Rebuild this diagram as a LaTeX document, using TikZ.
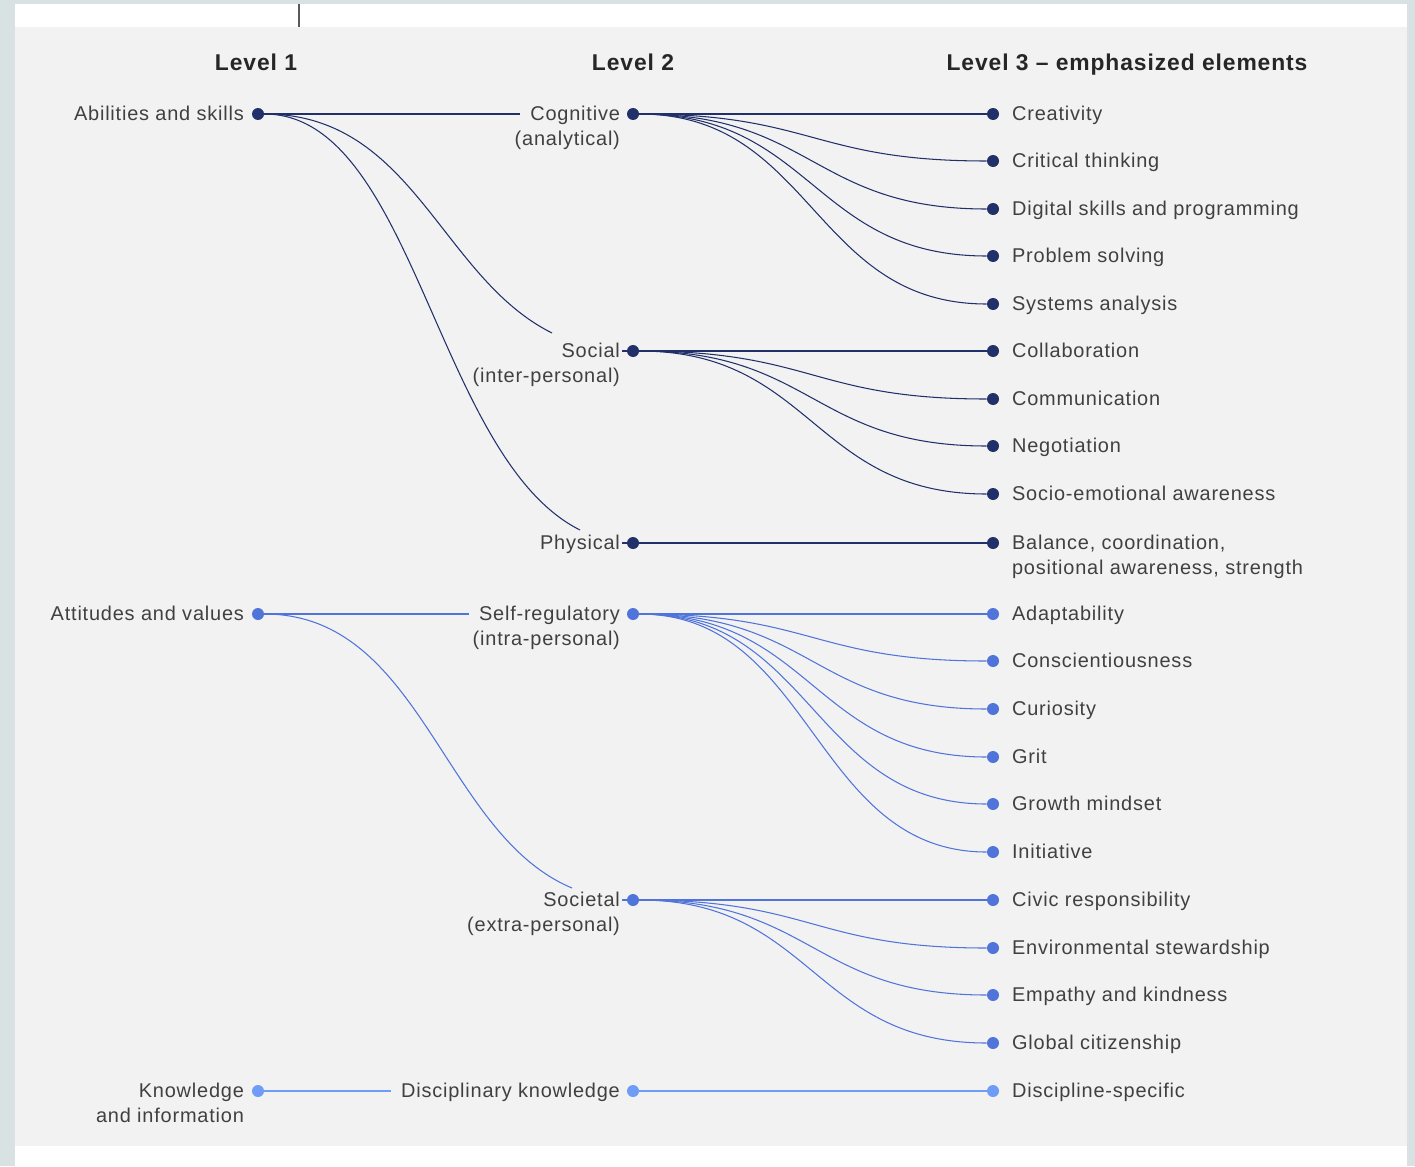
\documentclass[tikz,border=0pt]{standalone}
\usepackage{fontspec}
\setmainfont{Liberation Sans}[LetterSpace=4]
\definecolor{navy}{HTML}{22306A}
\definecolor{midblue}{HTML}{5074DA}
\definecolor{lightblue}{HTML}{6F9CF7}
\definecolor{panel}{HTML}{F2F2F2}
\definecolor{frame}{HTML}{D9E2E3}
\definecolor{txt}{HTML}{404040}
% dot at level 3 plus its text
\newcommand{\leaf}[4]{\node[dot,fill=#4] (#1) at (993,#2) {}; \node[lbl,anchor=base west] (#1t) at (1010,#2+6) {#3};}

\begin{document}
\begin{tikzpicture}[x=0.02cm,y=-0.02cm,
    dot/.style={circle,inner sep=0pt,minimum size=0.24cm},
    lbl/.style={inner sep=1pt,text=txt,font=\fontsize{11.35}{13}\selectfont},
    head/.style={inner sep=1pt,text=black!85,font=\fontsize{13}{15}\selectfont\bfseries},
    link/.style={line width=0.6pt}]
        \useasboundingbox (0,0) rectangle (1415,1166);
        %background
        \fill[frame] (0,0) rectangle (1415,1166);
        \fill[white] (15,4) rectangle (1407,1166);
        \fill[panel] (15,27) rectangle (1407,1146);
        \draw[black!65,line width=0.6pt] (299,4) -- (299,27);

        %headings
        \node[head,anchor=base] (h1) at (256,71) {Level 1};
        \node[head,anchor=base] (h2) at (633,71) {Level 2};
        \node[head,anchor=base] (h3) at (1127,71) {Level 3 -- emphasized elements};

        %level 1
        \node[dot,fill=navy] (ab) at (258,114) {};
        \node[lbl,anchor=base east] (abt) at (246,120) {Abilities and skills};
        \node[dot,fill=midblue] (att) at (258,614) {};
        \node[lbl,anchor=base east] (attt) at (246,620) {Attitudes and values};
        \node[dot,fill=lightblue] (kn) at (258,1091) {};
        \node[lbl,anchor=base east] (knt) at (246,1097) {Knowledge};
        \node[lbl,anchor=base east] (knt2) at (246,1122) {and information};

        %level 2
        \node[dot,fill=navy] (cog) at (633,114) {};
        \node[lbl,anchor=base east] (cogt) at (622,120) {Cognitive};
        \node[lbl,anchor=base east] (cogt2) at (622,145) {(analytical)};
        \node[dot,fill=navy] (soc) at (633,351) {};
        \node[lbl,anchor=base east] (soct) at (622,357) {Social};
        \node[lbl,anchor=base east] (soct2) at (622,382) {(inter-personal)};
        \node[dot,fill=navy] (phy) at (633,543) {};
        \node[lbl,anchor=base east] (phyt) at (622,549) {Physical};
        \node[dot,fill=midblue] (self) at (633,614) {};
        \node[lbl,anchor=base east] (selft) at (622,620) {Self-regulatory};
        \node[lbl,anchor=base east] (selft2) at (622,645) {(intra-personal)};
        \node[dot,fill=midblue] (socy) at (633,900) {};
        \node[lbl,anchor=base east] (socyt) at (622,906) {Societal};
        \node[lbl,anchor=base east] (socyt2) at (622,931) {(extra-personal)};
        \node[dot,fill=lightblue] (disc) at (633,1091) {};
        \node[lbl,anchor=base east] (disct) at (622,1097) {Disciplinary knowledge};

        %level 3
        \leaf{cre}{114}{Creativity}{navy}
        \leaf{crt}{161}{Critical thinking}{navy}
        \leaf{dig}{209}{Digital skills and programming}{navy}
        \leaf{prb}{256}{Problem solving}{navy}
        \leaf{sys}{304}{Systems analysis}{navy}
        \leaf{col}{351}{Collaboration}{navy}
        \leaf{com}{399}{Communication}{navy}
        \leaf{neg}{446}{Negotiation}{navy}
        \leaf{soe}{494}{Socio-emotional awareness}{navy}
        \leaf{bal}{543}{Balance, coordination,}{navy}
        \node[lbl,anchor=base west] (balt2) at (1010,574) {positional awareness, strength};
        \leaf{ada}{614}{Adaptability}{midblue}
        \leaf{con}{661}{Conscientiousness}{midblue}
        \leaf{cur}{709}{Curiosity}{midblue}
        \leaf{gri}{757}{Grit}{midblue}
        \leaf{gro}{804}{Growth mindset}{midblue}
        \leaf{ini}{852}{Initiative}{midblue}
        \leaf{civ}{900}{Civic responsibility}{midblue}
        \leaf{env}{948}{Environmental stewardship}{midblue}
        \leaf{emp}{995}{Empathy and kindness}{midblue}
        \leaf{glo}{1043}{Global citizenship}{midblue}
        \leaf{dsp}{1091}{Discipline-specific}{lightblue}

        %level 1 to level 2
        \coordinate (socin) at (552,333);
        \coordinate (phyin) at (580,530);
        \coordinate (socyin) at (572,888);
        \draw[link,navy,shorten >=0.16cm] (ab) -- (cogt.west |- ab);
        \draw[link,navy] (ab) .. controls (413.6,114) and (440.1,277.3) .. (socin);
        \draw[link,navy] (ab) .. controls (414,114) and (436,458) .. (phyin);
        \draw[link,navy] (soct.east |- soc) -- (soc);
        \draw[link,navy] (phyt.east |- phy) -- (phy);
        \draw[link,midblue,shorten >=0.16cm] (att) -- (selft.west |- att);
        \draw[link,midblue] (att) .. controls (422.4,614) and (442.7,834) .. (socyin);
        \draw[link,midblue] (socyt.east |- socy) -- (socy);
        \draw[link,lightblue,shorten >=0.16cm] (kn) -- (disct.west |- kn);

        %level 2 to level 3
        \draw[link,navy] (cog) -- (cre);
        \draw[link,navy] (cog) .. controls +(180,0) and +(-180,0) .. (crt);
        \draw[link,navy] (cog) .. controls +(180,0) and +(-180,0) .. (dig);
        \draw[link,navy] (cog) .. controls +(180,0) and +(-180,0) .. (prb);
        \draw[link,navy] (cog) .. controls +(180,0) and +(-180,0) .. (sys);
        \draw[link,navy] (soc) -- (col);
        \draw[link,navy] (soc) .. controls +(180,0) and +(-180,0) .. (com);
        \draw[link,navy] (soc) .. controls +(180,0) and +(-180,0) .. (neg);
        \draw[link,navy] (soc) .. controls +(180,0) and +(-180,0) .. (soe);
        \draw[link,navy] (phy) -- (bal);
        \draw[link,midblue] (self) -- (ada);
        \draw[link,midblue] (self) .. controls +(180,0) and +(-180,0) .. (con);
        \draw[link,midblue] (self) .. controls +(180,0) and +(-180,0) .. (cur);
        \draw[link,midblue] (self) .. controls +(180,0) and +(-180,0) .. (gri);
        \draw[link,midblue] (self) .. controls +(180,0) and +(-180,0) .. (gro);
        \draw[link,midblue] (self) .. controls +(180,0) and +(-180,0) .. (ini);
        \draw[link,midblue] (socy) -- (civ);
        \draw[link,midblue] (socy) .. controls +(180,0) and +(-180,0) .. (env);
        \draw[link,midblue] (socy) .. controls +(180,0) and +(-180,0) .. (emp);
        \draw[link,midblue] (socy) .. controls +(180,0) and +(-180,0) .. (glo);
        \draw[link,lightblue] (disc) -- (dsp);
        
\end{tikzpicture}
\end{document}
